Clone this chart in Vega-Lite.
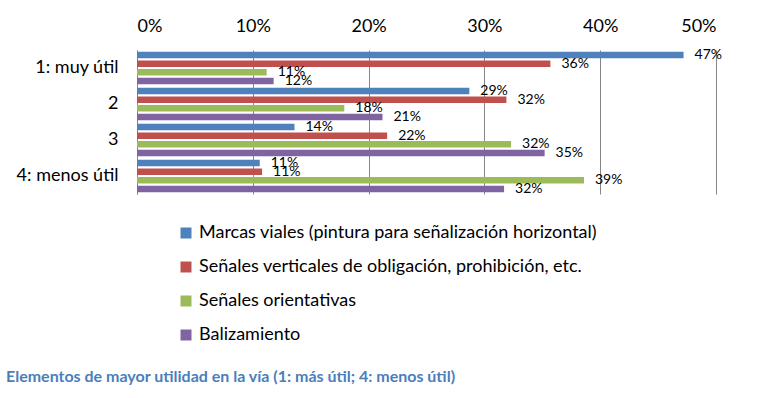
{
  "$schema": "https://vega.github.io/schema/vega-lite/v6.json",
  "width": 579,
  "height": 144,
  "autosize": {"type": "none"},
  "padding": {"left": 137, "top": 50, "right": 47, "bottom": 204},
  "background": "white",
  "config": {"font": "Lato", "view": {"stroke": null}},
  "title": {
    "text": "Elementos de mayor utilidad en la vía (1: más útil; 4: menos útil)",
    "orient": "bottom",
    "anchor": "start",
    "frame": "group",
    "dx": -131,
    "offset": 25,
    "fontSize": 16,
    "fontWeight": "bold",
    "color": "#4a7ebb",
    "font": "Lato"
  },
  "data": {
    "values": [
      {"cat": "1: muy útil", "serie": "Marcas viales (pintura para señalización horizontal)", "v": 0.472},
      {"cat": "1: muy útil", "serie": "Señales verticales de obligación, prohibición, etc.", "v": 0.357},
      {"cat": "1: muy útil", "serie": "Señales orientativas", "v": 0.112},
      {"cat": "1: muy útil", "serie": "Balizamiento", "v": 0.118},
      {"cat": "2", "serie": "Marcas viales (pintura para señalización horizontal)", "v": 0.287},
      {"cat": "2", "serie": "Señales verticales de obligación, prohibición, etc.", "v": 0.319},
      {"cat": "2", "serie": "Señales orientativas", "v": 0.179},
      {"cat": "2", "serie": "Balizamiento", "v": 0.212},
      {"cat": "3", "serie": "Marcas viales (pintura para señalización horizontal)", "v": 0.136},
      {"cat": "3", "serie": "Señales verticales de obligación, prohibición, etc.", "v": 0.216},
      {"cat": "3", "serie": "Señales orientativas", "v": 0.323},
      {"cat": "3", "serie": "Balizamiento", "v": 0.352},
      {"cat": "4: menos útil", "serie": "Marcas viales (pintura para señalización horizontal)", "v": 0.106},
      {"cat": "4: menos útil", "serie": "Señales verticales de obligación, prohibición, etc.", "v": 0.108},
      {"cat": "4: menos útil", "serie": "Señales orientativas", "v": 0.386},
      {"cat": "4: menos útil", "serie": "Balizamiento", "v": 0.317}
    ]
  },
  "encoding": {
    "y": {
      "field": "cat",
      "type": "nominal",
      "sort": ["1: muy útil", "2", "3", "4: menos útil"],
      "scale": {"paddingInner": 0.1, "paddingOuter": 0.05},
      "axis": {
        "title": null,
        "domain": true,
        "domainColor": "#868686",
        "ticks": false,
        "labelFontSize": 18,
        "labelColor": "black",
        "labelPadding": 19,
        "grid": false
      }
    },
    "yOffset": {
      "field": "serie",
      "type": "nominal",
      "sort": [
        "Marcas viales (pintura para señalización horizontal)",
        "Señales verticales de obligación, prohibición, etc.",
        "Señales orientativas",
        "Balizamiento"
      ],
      "scale": {"paddingInner": 0.25}
    },
    "x": {
      "field": "v",
      "type": "quantitative",
      "scale": {"domain": [0, 0.5], "nice": false},
      "axis": {
        "orient": "top",
        "title": null,
        "format": ".0%",
        "values": [0, 0.1, 0.2, 0.3, 0.4, 0.5],
        "grid": true,
        "gridColor": "#868686",
        "gridOpacity": 1,
        "domain": false,
        "ticks": false,
        "labelFontSize": 18,
        "labelColor": "black",
        "labelPadding": 15
      }
    }
  },
  "layer": [
    {
      "mark": {"type": "bar"},
      "encoding": {
        "color": {
          "field": "serie",
          "type": "nominal",
          "scale": {
            "domain": [
              "Marcas viales (pintura para señalización horizontal)",
              "Señales verticales de obligación, prohibición, etc.",
              "Señales orientativas",
              "Balizamiento"
            ],
            "range": ["#4F81BD", "#C0504D", "#9BBB59", "#8064A2"]
          },
          "legend": {
            "title": null,
            "orient": "none",
            "legendX": 40,
            "legendY": 174,
            "direction": "vertical",
            "symbolType": "square",
            "symbolSize": 121,
            "symbolStrokeWidth": 0,
            "labelFontSize": 18,
            "labelColor": "black",
            "labelOffset": 4,
            "rowPadding": 16,
            "labelLimit": 600
          }
        }
      }
    },
    {
      "mark": {"type": "text", "align": "left", "baseline": "middle", "dx": 11, "fontSize": 14, "color": "black"},
      "encoding": {
        "text": {"field": "v", "type": "quantitative", "format": ".0%"}
      }
    }
  ]
}
